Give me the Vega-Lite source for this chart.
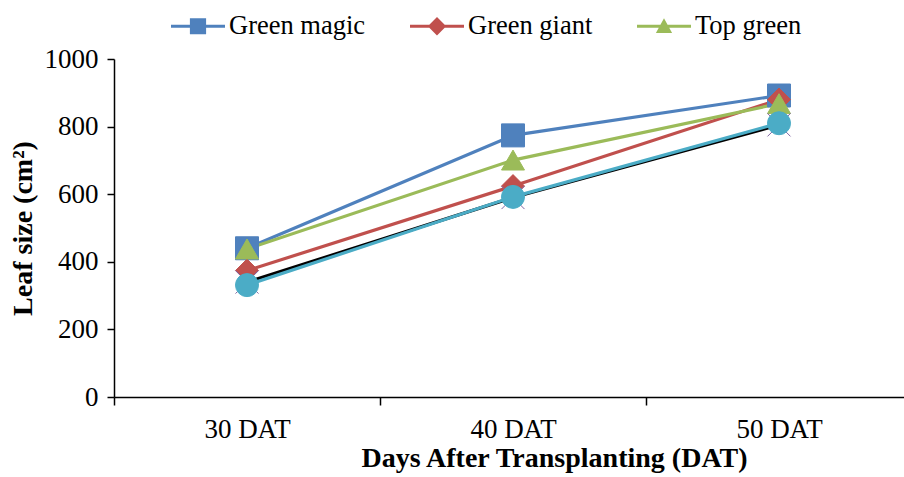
{
  "$schema": "https://vega.github.io/schema/vega-lite/v6.json",
  "width": 798,
  "height": 338,
  "autosize": {"type": "none"},
  "padding": {"left": 114, "top": 59, "right": 0, "bottom": 80},
  "background": "white",
  "config": {
    "view": {"stroke": null},
    "font": "Liberation Serif",
    "axis": {
      "domainColor": "black",
      "domainWidth": 1.5,
      "tickColor": "black",
      "tickWidth": 1.5,
      "grid": false,
      "labelFont": "Liberation Serif",
      "labelFontSize": 27,
      "labelColor": "black",
      "titleFont": "Liberation Serif",
      "titleFontSize": 28,
      "titleFontWeight": "bold",
      "titleColor": "black"
    }
  },
  "data": {
    "values": [
      {"day": "30 DAT", "series": "Green magic", "value": 440},
      {"day": "40 DAT", "series": "Green magic", "value": 774},
      {"day": "50 DAT", "series": "Green magic", "value": 892},
      {"day": "30 DAT", "series": "Green giant", "value": 374},
      {"day": "40 DAT", "series": "Green giant", "value": 624},
      {"day": "50 DAT", "series": "Green giant", "value": 880},
      {"day": "30 DAT", "series": "Top green", "value": 438},
      {"day": "40 DAT", "series": "Top green", "value": 701},
      {"day": "50 DAT", "series": "Top green", "value": 868},
      {"day": "30 DAT", "series": "Series 4", "value": 340},
      {"day": "40 DAT", "series": "Series 4", "value": 590},
      {"day": "50 DAT", "series": "Series 4", "value": 805},
      {"day": "30 DAT", "series": "Series 5", "value": 331},
      {"day": "40 DAT", "series": "Series 5", "value": 592},
      {"day": "50 DAT", "series": "Series 5", "value": 810}
    ]
  },
  "encoding": {
    "x": {
      "field": "day",
      "type": "nominal",
      "sort": ["30 DAT", "40 DAT", "50 DAT"],
      "scale": {"type": "band", "paddingInner": 0, "paddingOuter": 0},
      "axis": {
        "title": "Days After Transplanting (DAT)",
        "labelAngle": 0,
        "tickBand": "extent",
        "tickSize": 8,
        "labelPadding": 11,
        "titlePadding": 2,
        "titleX": 440
      }
    },
    "y": {
      "field": "value",
      "type": "quantitative",
      "scale": {"domain": [0, 1000], "nice": false, "zero": true},
      "axis": {
        "title": "Leaf size (cm²)",
        "format": "d",
        "values": [0, 200, 400, 600, 800, 1000],
        "tickSize": 7,
        "labelPadding": 9,
        "titlePadding": 7
      }
    }
  },
  "layer": [
    {
      "mark": {"type": "line", "strokeWidth": 3.2},
      "encoding": {
        "stroke": {
          "field": "series",
          "type": "nominal",
          "scale": {
            "domain": ["Green magic", "Green giant", "Top green", "Series 4", "Series 5"],
            "range": ["#4F81BD", "#C0504D", "#9BBB59", "#000000", "#4BACC6"]
          },
          "legend": null
        }
      }
    },
    {
      "mark": {"type": "point", "filled": true, "opacity": 1, "size": 529},
      "encoding": {
        "shape": {
          "field": "series",
          "type": "nominal",
          "scale": {
            "domain": ["Green magic", "Green giant", "Top green", "Series 4", "Series 5"],
            "range": ["square", "diamond", "triangle-up", "M-1,-1L1,1M-1,1L1,-1", "circle"]
          },
          "legend": null
        },
        "fill": {
          "field": "series",
          "type": "nominal",
          "scale": {
            "domain": ["Green magic", "Green giant", "Top green", "Series 5", "Series 4"],
            "range": ["#4F81BD", "#C0504D", "#9BBB59", "#4BACC6", "transparent"]
          },
          "legend": {
            "values": ["Green magic", "Green giant", "Top green"],
            "title": null,
            "orient": "none",
            "direction": "horizontal",
            "legendX": 57,
            "legendY": -60,
            "labelFont": "Liberation Serif",
            "labelFontSize": 26.5,
            "labelColor": "black",
            "labelOffset": 4,
            "symbolSize": 2916,
            "symbolStrokeWidth": 0,
            "symbolOpacity": 1,
            "columnPadding": 44,
            "encode": {
              "symbols": {
                "update": {
                  "shape": {
                    "signal": "datum.value === 'Green magic' ? 'M-1,-0.055H1V0.055H-1ZM-0.3,-0.3H0.3V0.3H-0.3Z' : datum.value === 'Green giant' ? 'M-1,-0.055H1V0.055H-1ZM0,-0.34L0.34,0L0,0.34L-0.34,0Z' : 'M-1,-0.055H1V0.055H-1ZM0,-0.3L0.3,0.25L-0.3,0.25Z'"
                  },
                  "strokeWidth": {"value": 0}
                }
              }
            }
          }
        },
        "stroke": {
          "field": "series",
          "type": "nominal",
          "scale": {
            "domain": ["Green magic", "Green giant", "Top green", "Series 4", "Series 5"],
            "range": ["#4F81BD", "#C0504D", "#9BBB59", "#8064A2", "#4BACC6"]
          },
          "legend": null
        },
        "strokeWidth": {
          "field": "series",
          "type": "ordinal",
          "scale": {
            "domain": ["Green magic", "Green giant", "Top green", "Series 4", "Series 5"],
            "range": [1, 1, 1, 2, 1]
          },
          "legend": null
        }
      }
    }
  ],
  "resolve": {"scale": {"stroke": "independent"}}
}
